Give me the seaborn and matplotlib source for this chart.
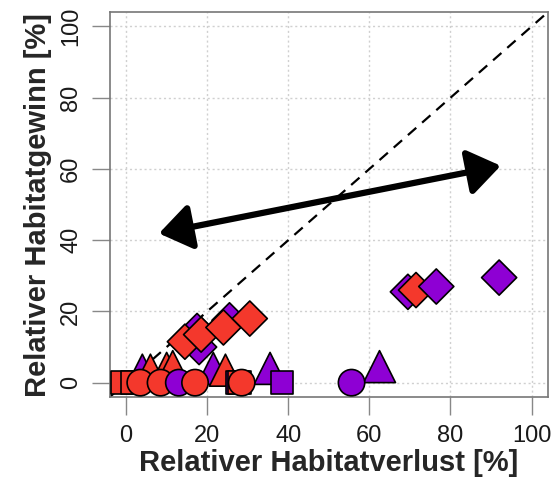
import matplotlib
matplotlib.use("Agg")
import matplotlib.pyplot as plt
import seaborn as sns
import pandas as pd

# ---- data ----
loss = [4.0, 6.0, 10.0, 11.5, 21.5, 24.5, 35.5, 62.5,
        27.5, 28.0, -1.0, 1.5, 38.5, 3.5, 8.5, 13.0, 17.0, 28.5, 55.6,
        17.5, 18.0, 14.5, 18.5, 25.5, 24.0, 30.5, 69.5, 71.5, 76.5, 92.0]
gain = [3.5, 3.5, 4.0, 4.5, 4.0, 3.5, 4.0, 4.5,
        0.0, 0.0, 0.0, 0.0, 0.0, 0.0, 0.0, 0.0, 0.0, 0.0, 0.0,
        14.5, 10.0, 11.5, 13.5, 17.5, 15.5, 18.0, 25.5, 26.0, 27.0, 29.5]
group = ["violett", "rot", "rot", "rot", "violett", "rot", "violett", "violett",
         "violett", "rot", "rot", "rot", "violett", "rot", "rot", "violett", "rot", "rot", "violett",
         "violett", "violett", "rot", "rot", "violett", "rot", "rot", "violett", "rot", "violett", "violett"]
shape = ["Dreieck"] * 8 + ["Quadrat"] * 5 + ["Kreis"] * 6 + ["Raute"] * 11

ticks = [0, 20, 40, 60, 80, 100]
tick_labels = ["0", "20", "40", "60", "80", "100"]
arrow_x = [8.1, 92.4]
arrow_y = [41.9, 60.9]
xlabel = "Relativer Habitatverlust [%]"
ylabel = "Relativer Habitatgewinn [%]"

df = pd.DataFrame({"loss": loss, "gain": gain, "group": group, "shape": shape})

sns.set_style("white")
plt.rcParams["font.family"] = ["Liberation Sans", "DejaVu Sans"]

fig = plt.figure(figsize=(5.55, 4.9), dpi=100)
ax = fig.add_axes([0.198, 0.19, 0.789, 0.785])

ax.set_xlim(-4, 104)
ax.set_ylim(-4, 104)
ax.set_xticks(ticks)
ax.set_yticks(ticks)
ax.grid(True, color="#d0d0d0", linestyle=(0, (1.5, 2)), linewidth=1.0)
ax.set_axisbelow(True)

ax.axline((0, 0), slope=1, color="black", linestyle=(0, (5, 3.5)), linewidth=1.6, zorder=1)

sns.scatterplot(data=df, x="loss", y="gain", hue="group", style="shape", size="shape",
                palette={"violett": "#8E00D4", "rot": "#F4382C"},
                markers={"Quadrat": "s", "Kreis": "o", "Dreieck": "^", "Raute": "D"},
                sizes={"Quadrat": 260, "Kreis": 360, "Dreieck": 530, "Raute": 320},
                edgecolor="black", linewidth=1.2, legend=False, ax=ax, zorder=3)

ax.annotate("", xy=(arrow_x[1], arrow_y[1]), xytext=(arrow_x[0], arrow_y[0]),
            arrowprops=dict(arrowstyle="<|-|>,head_length=0.85,head_width=0.6",
                            color="black", lw=4.5, mutation_scale=23, shrinkA=0, shrinkB=0),
            zorder=4)

ax.set_xticklabels(tick_labels, fontsize=17, color="#1a1a1a")
ax.set_yticklabels(tick_labels, fontsize=17, color="#1a1a1a", rotation=90, va="center")
ax.tick_params(axis="both", direction="out", length=13, width=1.0, color="#888888", pad=7,
               bottom=True, left=True)
for sp in ax.spines.values():
    sp.set_color("#777777")
    sp.set_linewidth(1.2)

ax.set_xlabel(xlabel, fontsize=21, fontweight="bold", labelpad=2)
ax.set_ylabel(ylabel, fontsize=21, fontweight="bold", labelpad=6)

fig.savefig("out.png", dpi=100)
